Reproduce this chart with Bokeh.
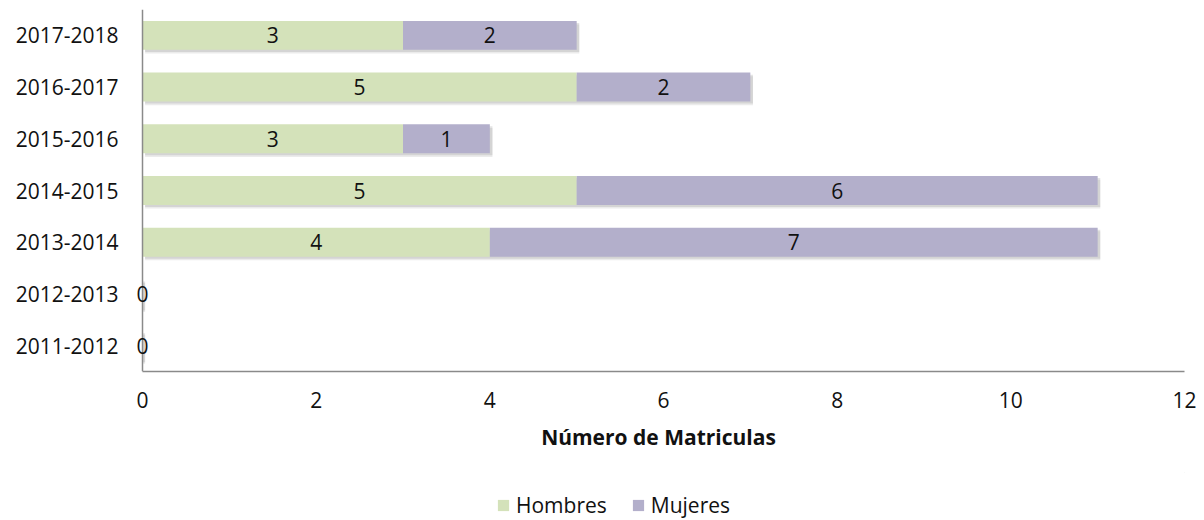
from bokeh.plotting import figure
from bokeh.layouts import column
from bokeh.models import ColumnDataSource, FactorRange, Range1d, Legend, LegendItem, LabelSet, Span
from bokeh.transform import dodge
from bokeh.core.properties import value
from bokeh.embed import file_html
from bokeh.resources import INLINE

years = ["2011-2012", "2012-2013", "2013-2014", "2014-2015", "2015-2016", "2016-2017", "2017-2018"]
hombres = [0, 0, 4, 5, 3, 5, 3]
mujeres = [0, 0, 7, 6, 1, 2, 2]
x_ticks = [0, 2, 4, 6, 8, 10, 12]
series_names = ["Hombres", "Mujeres"]

GREEN = "#d4e2ba"
PURPLE = "#b3afcb"
AXIS = "#8a8a8a"
FONT = "Open Sans"

totals = [h + m for h, m in zip(hombres, mujeres)]
src = ColumnDataSource(dict(year=years, Hombres=hombres, Mujeres=mujeres, total=totals,
                            shadow_right=[t + 0.03 if t > 0 else 0 for t in totals],
                            shadow_left=[0.03 for _ in totals]))

# labels
lx, ly, lt = [], [], []
for y, h, m in zip(years, hombres, mujeres):
    if h + m == 0:
        lx.append(0); ly.append(y); lt.append("0")
    else:
        lx.append(h / 2); ly.append(y); lt.append(str(h))
        lx.append(h + m / 2); ly.append(y); lt.append(str(m))
lsrc = ColumnDataSource(dict(x=lx, y=ly, t=lt))

# frame: value 0 at px 142, value 12 at px 1184; extend left by 10 px so "0" labels are not clipped
PAD_PX = 10
FRAME_LEFT = 142 - PAD_PX
x_start = -PAD_PX * 12 / (1184 - 142)

p = figure(width=1196, height=472, y_range=FactorRange(*years), x_range=Range1d(x_start, 12),
           output_backend="svg", toolbar_location=None,
           min_border_left=FRAME_LEFT, min_border_right=12, min_border_top=9, min_border_bottom=101)

# soft shadow
p.hbar(y=dodge("year", -0.07, range=p.y_range), left="shadow_left", right="shadow_right", height=0.56,
       source=src, fill_color="#7a7a7a", fill_alpha=0.15, line_color=None)
p.hbar(y=dodge("year", -0.04, range=p.y_range), left="shadow_left", right="shadow_right", height=0.56,
       source=src, fill_color="#7a7a7a", fill_alpha=0.2, line_color=None)

rs = p.hbar_stack(series_names, y="year", height=0.56, color=[GREEN, PURPLE],
                  line_color=None, source=src)

# y axis line at value 0
p.add_layout(Span(location=0, dimension="height", line_color=AXIS, line_width=1.5))

labels = LabelSet(x="x", y="y", text="t", source=lsrc, text_align="center", text_baseline="middle",
                  text_font=value(FONT), text_font_size="21px", text_color="#111111")
p.add_layout(labels)

p.xgrid.visible = False
p.ygrid.visible = False
p.outline_line_color = None

for ax in (p.xaxis[0], p.yaxis[0]):
    ax.axis_line_color = AXIS
    ax.axis_line_width = 1.5
    ax.major_tick_line_color = None
    ax.minor_tick_line_color = None
    ax.major_tick_out = 0
    ax.major_tick_in = 0
    ax.major_label_text_font = FONT
    ax.major_label_text_font_size = "21px"
    ax.major_label_text_color = "#111111"

p.yaxis.axis_line_color = None
p.xaxis.bounds = (0, 12)
p.xaxis.ticker = x_ticks
p.xaxis.major_label_standoff = 20
p.yaxis.major_label_standoff = 14
p.xaxis.axis_label = "Número de Matriculas"
p.xaxis.axis_label_text_font = FONT
p.xaxis.axis_label_text_font_size = "21px"
p.xaxis.axis_label_text_font_style = "bold"
p.xaxis.axis_label_text_color = "#111111"
p.xaxis.axis_label_standoff = 12

# legend strip below the chart (swatch renderers sit outside the visible range)
p2 = figure(width=1196, height=48, x_range=Range1d(0, 1), y_range=Range1d(0, 1),
            output_backend="svg", toolbar_location=None,
            min_border_left=FRAME_LEFT, min_border_right=12, min_border_top=0, min_border_bottom=0)
p2.axis.visible = False
p2.grid.visible = False
p2.outline_line_color = None
offscreen = ColumnDataSource(dict(y=[10], left=[10], right=[11]))
lr = [p2.hbar(y="y", left="left", right="right", height=1, source=offscreen,
              fill_color=c, line_color=None) for c in (GREEN, PURPLE)]

legend = Legend(items=[LegendItem(label=n, renderers=[r], index=0) for n, r in zip(series_names, lr)],
                location=(496 - FRAME_LEFT, 1), orientation="horizontal",
                glyph_width=14, glyph_height=14, label_standoff=6, spacing=24,
                padding=0, margin=0, border_line_color=None, background_fill_alpha=0,
                label_text_font=FONT, label_text_font_size="21px", label_text_color="#111111")
p2.add_layout(legend, "center")

layout = column(p, p2, spacing=0)
open("out.html", "w").write(file_html(layout, INLINE))
